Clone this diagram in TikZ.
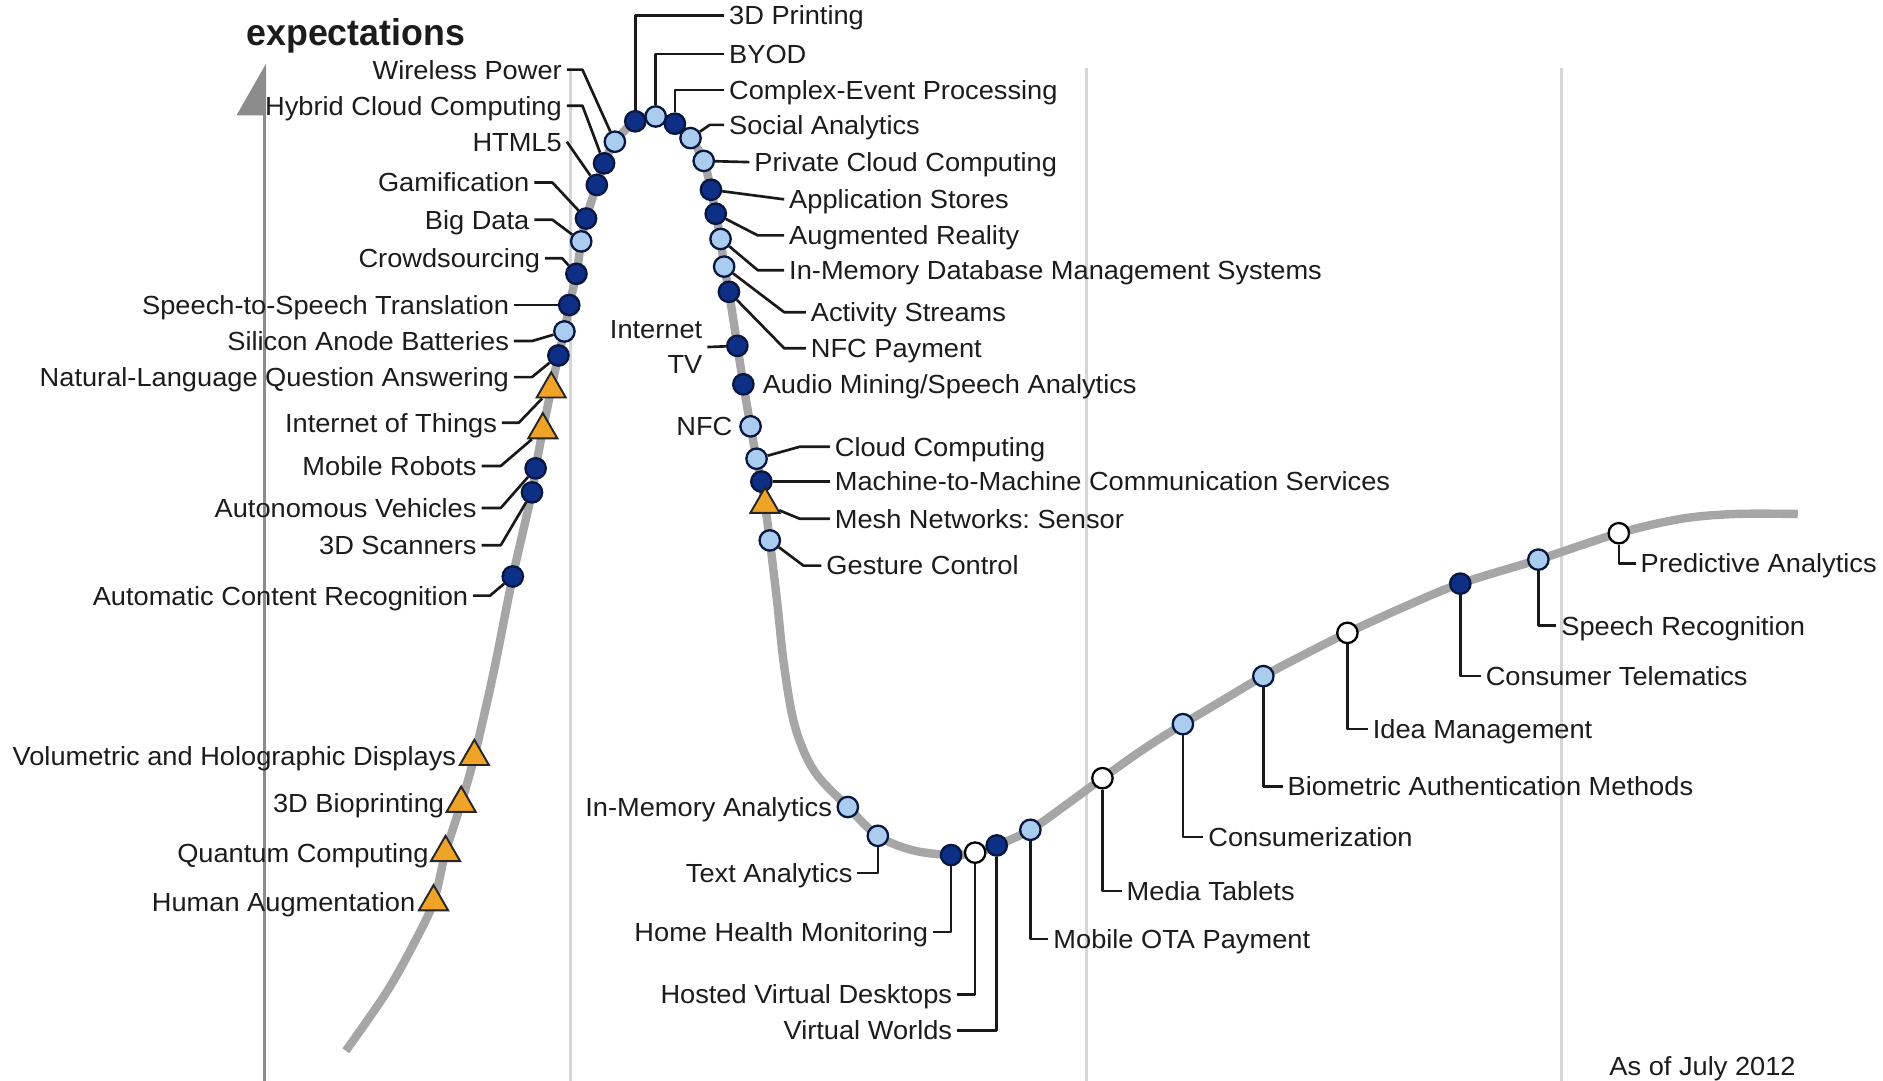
\documentclass[tikz,border=0pt]{standalone}
\usepackage{fontspec}
\setmainfont{Liberation Sans}[FakeStretch=1.04]
\newfontfamily\headfont{Liberation Sans}[FakeStretch=0.96]
\usetikzlibrary{shapes.geometric}
\frenchspacing

\definecolor{navy}{HTML}{0E2F86}
\definecolor{navyline}{HTML}{081640}
\definecolor{paleblue}{HTML}{AACDEF}
\definecolor{amber}{HTML}{F0A427}
\definecolor{curvegrey}{HTML}{A6A6A6}
\definecolor{phasegrey}{HTML}{D6D6D6}
\definecolor{axisgrey}{HTML}{8C8C8C}
\definecolor{txt}{HTML}{1C1C1C}

\begin{document}
\begin{tikzpicture}[x=1pt,y=-1pt,
  dotbase/.style={circle, line width=1.9pt, minimum size=17pt, inner sep=0pt},
  dk/.style={dotbase, draw=navyline, fill=navy},
  lt/.style={dotbase, draw=navyline, fill=paleblue},
  wh/.style={dotbase, draw=black, fill=white},
  tri/.style={regular polygon, regular polygon sides=3, draw=black!85, fill=amber,
    line width=1.6pt, minimum size=28pt, inner sep=0pt},
  lab/.style={inner xsep=4pt, inner ysep=0pt, text height=15.6pt, text depth=0pt,
    font=\fontsize{21.8}{25}\selectfont, text=txt},
  le/.style={lab, anchor=east},
  rw/.style={lab, anchor=west},
  lead/.style={draw=black!90, line width=2.2pt, line join=round},
  phase/.style={draw=phasegrey, line width=2.5pt}
]
\useasboundingbox (0,0) rectangle (1568,900);
\fill[white] (0,0) rectangle (1568,900);

% phase boundaries and the expectations axis
\draw[phase] (475,57) -- (475,900);
\draw[phase] (905,57) -- (905,900);
\draw[phase] (1300,57) -- (1300,900);
\draw[draw=axisgrey, line width=2.5pt] (220,92) -- (220,900);
\fill[axisgrey] (221.5,53) -- (221.5,96) -- (197,96) -- cycle;
\node[rw, font=\headfont\fontsize{31}{34}\selectfont\bfseries, text height=22pt] (ylab) at (201,27) {expectations};

% hype curve
\draw[curvegrey, line width=7pt, line cap=butt] plot[smooth, tension=0.55] coordinates {
 (288,875) (322,826) (345,785) (361,751) (371,710) (384,669) (395,630) (411,560)
 (427,480) (443,410) (446,390) (452,358) (459,324) (465,296) (470,276) (474,254)
 (480,228) (484,201) (488,182) (497,154) (503,136) (512,118) (529,101) (546,97)
 (562,103) (575,115) (586,134) (592,158) (596,178) (600,199) (603,222) (607,243)
 (614,288) (619,320) (625,355) (630,382) (634,401) (637,420) (641,450) (647,500)
 (653,555) (662,605) (678,642) (706,672) (731,696) (760,708) (792,712) (812,710)
 (830,704) (858,691) (888,670) (918,648) (952,624) (985,603) (1020,582) (1052,563)
 (1088,544) (1122,527) (1170,505) (1216,486) (1281,466) (1348,444) (1400,432)
 (1445,428) (1497,428)};

% technology markers
\node[lt] (wp) at (512,118) {};
\node[dk] (hcc) at (503,136) {};
\node[dk] (html) at (497,154) {};
\node[dk] (gam) at (488,182) {};
\node[lt] (bd) at (484,201) {};
\node[dk] (cs) at (480,228) {};
\node[dk] (sst) at (474,254) {};
\node[lt] (sab) at (470,276) {};
\node[dk] (nlq) at (465,296) {};
\node[tri] (iot) at (459,324) {};
\node[tri] (mr) at (452,358) {};
\node[dk] (av) at (446,390) {};
\node[dk] (s3d) at (443,410) {};
\node[dk] (acr) at (427,480) {};
\node[tri] (vhd) at (395,630) {};
\node[tri] (bio) at (384,669) {};
\node[tri] (qc) at (371,710) {};
\node[tri] (ha) at (361,751) {};
\node[dk] (p3d) at (529,101) {};
\node[lt] (byod) at (546,97) {};
\node[dk] (cep) at (562,103) {};
\node[lt] (sa) at (575,115) {};
\node[lt] (pcc) at (586,134) {};
\node[dk] (as) at (592,158) {};
\node[dk] (ar) at (596,178) {};
\node[lt] (imdb) at (600,199) {};
\node[lt] (ast) at (603,222) {};
\node[dk] (nfcp) at (607,243) {};
\node[dk] (itv) at (614,288) {};
\node[dk] (am) at (619,320) {};
\node[lt] (nfc) at (625,355) {};
\node[lt] (cc) at (630,382) {};
\node[dk] (m2m) at (634,401) {};
\node[tri] (mesh) at (637,420) {};
\node[lt] (gc) at (641,450) {};
\node[lt] (ima) at (706,672) {};
\node[lt] (ta) at (731,696) {};
\node[dk] (hhm) at (792,712) {};
\node[wh] (hvd) at (812,710) {};
\node[dk] (vw) at (830,704) {};
\node[lt] (ota) at (858,691) {};
\node[wh] (mt) at (918,648) {};
\node[lt] (con) at (985,603) {};
\node[lt] (bam) at (1052,563) {};
\node[wh] (idm) at (1122,527) {};
\node[dk] (ct) at (1216,486) {};
\node[lt] (sr) at (1281,466) {};
\node[wh] (pa) at (1348,444) {};

% labels on the rising slope
\node[le] (lwp) at (472,58) {Wireless Power};
\node[le] (lhcc) at (472,88) {Hybrid Cloud Computing};
\node[le] (lhtml) at (472,118) {HTML5};
\node[le] (lgam) at (445,152) {Gamification};
\node[le] (lbd) at (445,183) {Big Data};
\node[le] (lcs) at (454,215) {Crowdsourcing};
\node[le] (lsst) at (428,254) {Speech-to-Speech Translation};
\node[le] (lsab) at (428,284) {Silicon Anode Batteries};
\node[le] (lnlq) at (428,314) {Natural-Language Question Answering};
\node[le] (liot) at (418,352) {Internet of Things};
\node[le] (lmr) at (401,388) {Mobile Robots};
\node[le] (lav) at (401,423) {Autonomous Vehicles};
\node[le] (ls3d) at (401,454) {3D Scanners};
\node[le] (lacr) at (394,496) {Automatic Content Recognition};
\node[le] (lvhd) at (384,630) {Volumetric and Holographic Displays};
\node[le] (lbio) at (374,669) {3D Bioprinting};
\node[le] (lqc) at (361,710) {Quantum Computing};
\node[le] (lha) at (350,751) {Human Augmentation};

% labels around the peak and the slide
\node[rw] (lp3d) at (603,13) {3D Printing};
\node[rw] (lbyod) at (603,45) {BYOD};
\node[rw] (lcep) at (603,75) {Complex-Event Processing};
\node[rw] (lsa) at (603,104) {Social Analytics};
\node[rw] (lpcc) at (624,135) {Private Cloud Computing};
\node[rw] (las) at (653,166) {Application Stores};
\node[rw] (lar) at (653,196) {Augmented Reality};
\node[rw] (limdb) at (653,225) {In-Memory Database Management Systems};
\node[rw] (last) at (671,260) {Activity Streams};
\node[rw] (lnfcp) at (671,290) {NFC Payment};
\node[lab, anchor=east, align=right, text height=, text depth=,
  font=\fontsize{21.8}{29}\selectfont] (litv) at (589,289) {Internet\\TV};
\node[rw] (lam) at (631,320) {Audio Mining/Speech Analytics};
\node[le] (lnfc) at (614,355) {NFC};
\node[rw] (lcc) at (691,372) {Cloud Computing};
\node[rw] (lm2m) at (691,401) {Machine-to-Machine Communication Services};
\node[rw] (lmesh) at (691,432) {Mesh Networks: Sensor};
\node[rw] (lgc) at (684,471) {Gesture Control};

% labels in the trough and on the slope
\node[le] (lima) at (697,672) {In-Memory Analytics};
\node[le] (lta) at (714,727) {Text Analytics};
\node[le] (lhhm) at (777,776) {Home Health Monitoring};
\node[le] (lhvd) at (797,828) {Hosted Virtual Desktops};
\node[le] (lvw) at (797,858) {Virtual Worlds};
\node[rw] (lota) at (873,782) {Mobile OTA Payment};
\node[rw] (lmt) at (934,742) {Media Tablets};
\node[rw] (lcon) at (1002,697) {Consumerization};
\node[rw] (lbam) at (1068,655) {Biometric Authentication Methods};
\node[rw] (lidm) at (1139,607) {Idea Management};
\node[rw] (lct) at (1233,563) {Consumer Telematics};
\node[rw] (lsr) at (1296,521) {Speech Recognition};
\node[rw] (lpa) at (1362,469) {Predictive Analytics};
\node[rw] (date) at (1336,888) {As of July 2012};

% leader lines
\draw[lead] (lwp.east) -- ++(13,0) -- (wp);
\draw[lead] (lhcc.east) -- ++(13,0) -- (hcc);
\draw[lead] (lhtml.east) -- (html);
\draw[lead] (lgam.east) -- ++(15,0) -- (gam);
\draw[lead] (lbd.east) -- ++(15,0) -- (bd);
\draw[lead] (lcs.east) -- ++(14,0) -- (cs);
\draw[lead] (lsst.east) -- (sst);
\draw[lead] (lsab.east) -- ++(15,0) -- (sab);
\draw[lead] (lnlq.east) -- ++(15,0) -- (nlq);
\draw[lead] (liot.east) -- ++(14,0) -- (iot);
\draw[lead] (lmr.east) -- ++(16,0) -- (mr);
\draw[lead] (lav.east) -- ++(16,0) -- (av);
\draw[lead] (ls3d.east) -- ++(16,0) -- (s3d);
\draw[lead] (lacr.east) -- ++(14,0) -- (acr);

\draw[lead] (lp3d.west) -| (p3d);
\draw[lead] (lbyod.west) -| (byod);
\draw[lead] (lcep.west) -| (cep);
\draw[lead] (lsa.west) -- ++(-12,0) -- (sa);
\draw[lead] (lpcc.west) -- (pcc);
\draw[lead] (las.west) -- (as);
\draw[lead] (lar.west) -- ++(-22,0) -- (ar);
\draw[lead] (limdb.west) -- ++(-22,0) -- (imdb);
\draw[lead] (last.west) -- ++(-18,0) -- (ast);
\draw[lead] (lnfcp.west) -- ++(-18,0) -- (nfcp);
\draw[lead] (litv.east) -- (itv);
\draw[lead] (lcc.west) -- ++(-25,0) -- (cc);
\draw[lead] (lm2m.west) -- (m2m);
\draw[lead] (lmesh.west) -- ++(-25,0) -- (mesh);
\draw[lead] (lgc.west) -- ++(-15,0) -- (gc);

\draw[lead] (lta.east) -| (ta);
\draw[lead] (lhhm.east) -| (hhm);
\draw[lead] (lhvd.east) -| (hvd);
\draw[lead] (lvw.east) -| (vw);
\draw[lead] (lota.west) -| (ota);
\draw[lead] (lmt.west) -| (mt);
\draw[lead] (lcon.west) -| (con);
\draw[lead] (lbam.west) -| (bam);
\draw[lead] (lidm.west) -| (idm);
\draw[lead] (lct.west) -| (ct);
\draw[lead] (lsr.west) -| (sr);
\draw[lead] (lpa.west) -| (pa);
\end{tikzpicture}
\end{document}
